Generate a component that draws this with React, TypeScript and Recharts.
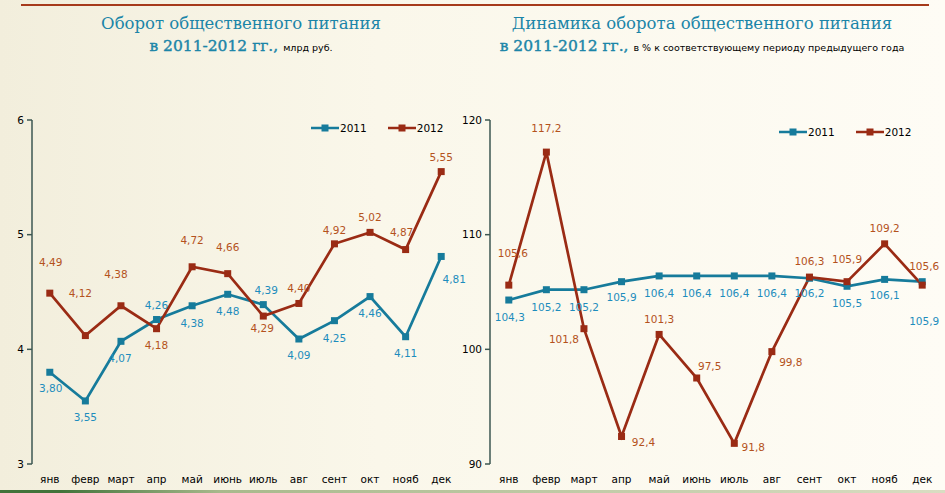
import React from 'react';
import { LineChart, Line, XAxis, YAxis, LabelList, Legend } from 'recharts';

const months = ['янв', 'февр', 'март', 'апр', 'май', 'июнь', 'июль', 'авг', 'сент', 'окт', 'нояб', 'дек'];

// млрд руб.
const turnover2011 = [3.8, 3.55, 4.07, 4.26, 4.38, 4.48, 4.39, 4.09, 4.25, 4.46, 4.11, 4.81];
const turnover2012 = [4.49, 4.12, 4.38, 4.18, 4.72, 4.66, 4.29, 4.4, 4.92, 5.02, 4.87, 5.55];

// % к соответствующему периоду предыдущего года
const dynamics2011 = [104.3, 105.2, 105.2, 105.9, 106.4, 106.4, 106.4, 106.4, 106.2, 105.5, 106.1, 105.9];
const dynamics2012 = [105.6, 117.2, 101.8, 92.4, 101.3, 97.5, 91.8, 99.8, 106.3, 105.9, 109.2, 105.6];

const leftTicks = [3, 4, 5, 6];
const rightTicks = [90, 100, 110, 120];

// label placement (dx, dy from the point), like hand-moved labels in the original
const lblTurn2011 = [[1, 16], [0, 16], [-1, 17], [0, -15], [0, 17], [0, 17], [3, -15], [0, 16], [0, 17], [0, 16], [0, 16], [13, 23]];
const lblTurn2012 = [[1, -31], [-5, -43], [-5, -32], [0, 16], [0, -27], [0, -27], [-1, 12], [0, -15], [0, -14], [0, -15], [-4, -18], [0, -15]];
const lblDyn2011 = [[1, 17], [0, 17], [0, 17], [0, 15], [0, 17], [0, 17], [0, 17], [0, 17], [0, 15], [0, 17], [0, 16], [2, 39]];
const lblDyn2012 = [[4, -32], [0, -24], [-20, 10], [22, 6], [0, -15], [13, -12], [19, 4], [19, 10], [0, -16], [0, -23], [0, -16], [2, -19]];

const C2011 = '#167b9b';
const C2012 = '#9a2b14';
const L2011 = '#1d8dbd';
const L2012 = '#b4521c';
const AXIS = '#3d5752';
const FONT = '"DejaVu Sans", Verdana, sans-serif';
const SERIF = '"DejaVu Serif", Georgia, serif';

const monthTicks = months.map((_, i) => i + 0.5);
const edgeTicks = months.map((_, i) => i).concat(months.length);

const buildData = (a: number[], b: number[]) =>
  months.map((m, i) => ({ pos: i + 0.5, month: m, y2011: a[i], y2012: b[i] }));

const squareDot = (color: string) => (p: any) => (
  <rect key={`d-${p.index}`} x={p.cx - 3.5} y={p.cy - 3.5} width={7} height={7} fill={color} />
);

const makeLabel = (offsets: number[][], color: string, digits: number) => (p: any) => {
  const [dx, dy] = offsets[p.index] || [0, -14];
  return (
    <text
      x={p.x + dx}
      y={p.y + dy}
      textAnchor="middle"
      dominantBaseline="central"
      fontSize={10.5}
      fontFamily={FONT}
      fill={color}
    >
      {Number(p.value).toFixed(digits).replace('.', ',')}
    </text>
  );
};

const LegendContent = () => (
  <div style={{ display: 'flex', fontFamily: FONT, fontSize: 10.5, color: '#000', whiteSpace: 'nowrap' }}>
    {[
      ['2011', C2011],
      ['2012', C2012],
    ].map(([name, color], i) => (
      <div key={name} style={{ display: 'flex', alignItems: 'center', marginLeft: i ? 21 : 0 }}>
        <svg width={28} height={10}>
          <line x1={0} y1={5} x2={28} y2={5} stroke={color} strokeWidth={2.5} />
          <rect x={10.5} y={1.5} width={7} height={7} fill={color} />
        </svg>
        <span style={{ marginLeft: 1 }}>{name}</span>
      </div>
    ))}
  </div>
);

interface PanelProps {
  data: any[];
  domain: [number, number];
  ticks: number[];
  width: number;
  yAxisWidth: number;
  rightMargin: number;
  lbl2011: number[][];
  lbl2012: number[][];
  digits: number;
  legendLeft: number;
  legendTop: number;
}

const Panel: React.FC<PanelProps> = (p) => (
  <LineChart
    width={p.width}
    height={493}
    data={p.data}
    margin={{ top: 120, right: p.rightMargin, left: 0, bottom: 0 }}
  >
    <XAxis
      xAxisId="edge"
      type="number"
      dataKey="pos"
      domain={[0, months.length]}
      ticks={edgeTicks}
      height={0}
      tickFormatter={() => ''}
      stroke={AXIS}
      strokeWidth={1.5}
      tickSize={4}
    />
    <XAxis
      xAxisId="month"
      type="number"
      dataKey="pos"
      domain={[0, months.length]}
      ticks={monthTicks}
      height={29}
      axisLine={false}
      tickLine={false}
      tickFormatter={(v: number) => months[Math.floor(v)]}
      tick={{ fontSize: 10.5, fontFamily: FONT, fill: '#000' }}
      tickMargin={6}
      interval={0}
    />
    <YAxis
      type="number"
      domain={p.domain}
      ticks={p.ticks}
      width={p.yAxisWidth}
      stroke={AXIS}
      strokeWidth={1.5}
      tickSize={5}
      tickMargin={3}
      tick={{ fontSize: 10.5, fontFamily: FONT, fill: '#000' }}
      allowDataOverflow
    />
    <Legend
      layout="horizontal"
      verticalAlign="middle"
      align="center"
      content={<LegendContent />}
      wrapperStyle={{ left: p.legendLeft, top: p.legendTop, width: 'auto' }}
    />
    <Line
      xAxisId="edge"
      dataKey="y2011"
      name="2011"
      stroke={C2011}
      strokeWidth={2.7}
      dot={squareDot(C2011)}
      activeDot={false}
      isAnimationActive={false}
    >
      <LabelList dataKey="y2011" content={makeLabel(p.lbl2011, L2011, p.digits)} />
    </Line>
    <Line
      xAxisId="edge"
      dataKey="y2012"
      name="2012"
      stroke={C2012}
      strokeWidth={2.7}
      dot={squareDot(C2012)}
      activeDot={false}
      isAnimationActive={false}
    >
      <LabelList dataKey="y2012" content={makeLabel(p.lbl2012, L2012, p.digits)} />
    </Line>
  </LineChart>
);

const titleStyle: React.CSSProperties = {
  position: 'absolute',
  top: 13,
  textAlign: 'center',
  fontFamily: SERIF,
  color: '#1b85a8',
  whiteSpace: 'nowrap',
};

const Title: React.FC<{ left: number; width: number; line1: string; note: string }> = ({ left, width, line1, note }) => (
  <div style={{ ...titleStyle, left, width }}>
    <div style={{ fontSize: 16.5, lineHeight: '22px' }}>{line1}</div>
    <div style={{ fontSize: 15.5, lineHeight: '22px', WebkitTextStroke: '0.4px #1b85a8' }}>
      в 2011-2012 гг.,{' '}
      <span style={{ fontFamily: FONT, fontSize: 9.5, color: '#000', WebkitTextStroke: '0px' }}>{note}</span>
    </div>
  </div>
);

export default function App() {
  const leftData = buildData(turnover2011, turnover2012);
  const rightData = buildData(dynamics2011, dynamics2012);
  return (
    <div
      style={{
        position: 'absolute',
        left: 0,
        top: 0,
        width: 945,
        height: 493,
        overflow: 'hidden',
        background: 'linear-gradient(to right, #f2eedc 0%, #faf7ea 40%, #fefcf5 100%)',
      }}
    >
      <div style={{ position: 'absolute', left: 21, top: 4, width: 908, height: 2, background: '#a63a1b' }} />
      <div
        style={{
          position: 'absolute',
          left: 0,
          top: 490,
          width: 945,
          height: 3,
          background: 'linear-gradient(to right, #41733a 0px, #41733a 60px, #a8b98c 220px, #d9ddc2 100%)',
        }}
      />
      <Title left={0} width={482} line1="Оборот общественного питания" note="млрд руб." />
      <Title
        left={470}
        width={464}
        line1="Динамика оборота общественного питания"
        note="в % к соответствующему периоду предыдущего года"
      />
      <div style={{ position: 'absolute', left: 0, top: 0 }}>
        <Panel
          data={leftData}
          domain={[3, 6]}
          ticks={leftTicks}
          width={470}
          yAxisWidth={32}
          rightMargin={11}
          lbl2011={lblTurn2011}
          lbl2012={lblTurn2012}
          digits={2}
          legendLeft={311}
          legendTop={122}
        />
      </div>
      <div style={{ position: 'absolute', left: 440, top: 0 }}>
        <Panel
          data={rightData}
          domain={[90, 120]}
          ticks={rightTicks}
          width={505}
          yAxisWidth={50}
          rightMargin={4}
          lbl2011={lblDyn2011}
          lbl2012={lblDyn2012}
          digits={1}
          legendLeft={339}
          legendTop={126}
        />
      </div>
    </div>
  );
}
